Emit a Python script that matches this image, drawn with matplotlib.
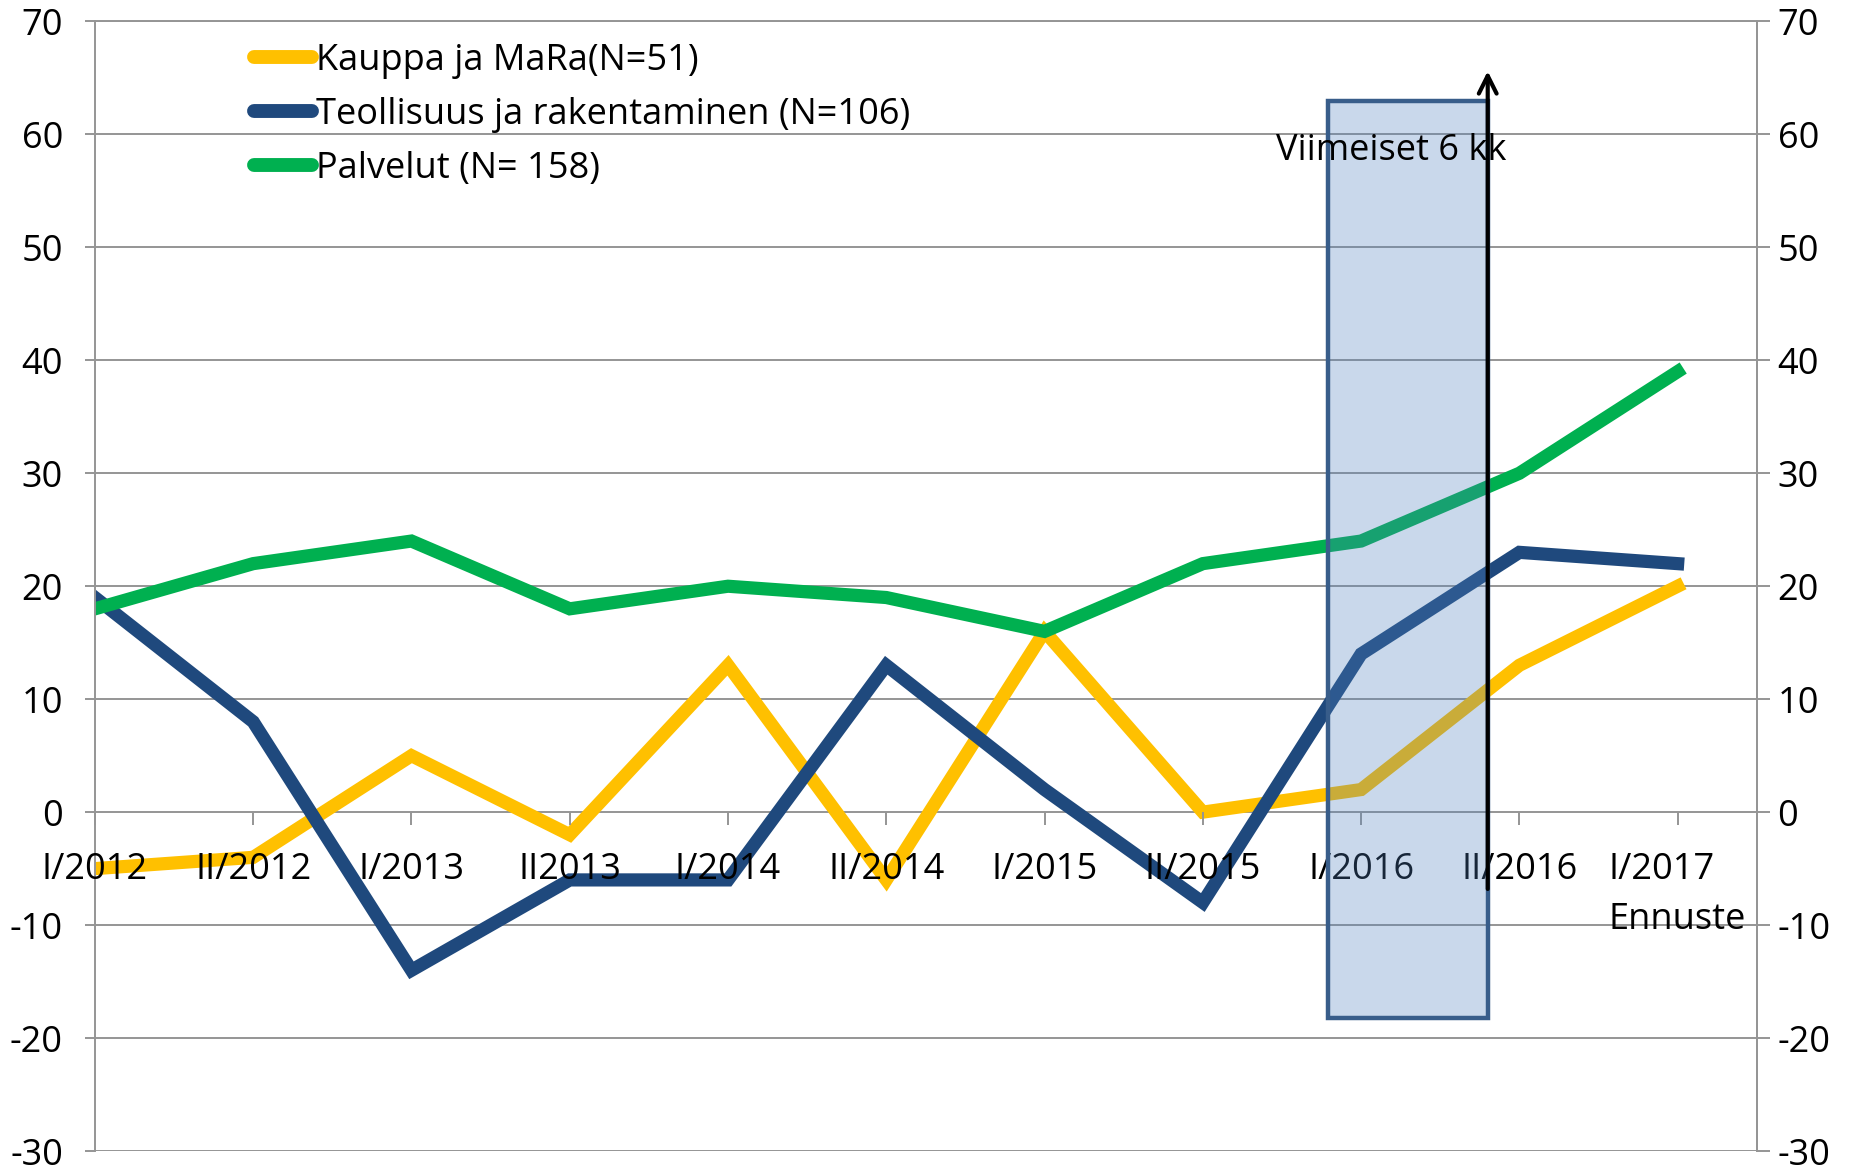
import matplotlib
matplotlib.use('Agg')
import matplotlib.pyplot as plt
from matplotlib.patches import Rectangle
from matplotlib.lines import Line2D

plt.rcParams['font.family'] = ['Open Sans', 'DejaVu Sans']
plt.rcParams['axes.unicode_minus'] = False

jaksot = ['I/2012', 'II/2012', 'I/2013', 'II2013', 'I/2014', 'II/2014',
          'I/2015', 'II/2015', 'I/2016', 'II/2016', 'I/2017\nEnnuste']
kauppa = [-5, -4, 5, -2, 13, -6, 16, 0, 2, 13, 20]
teollisuus = [19, 8, -14, -6, -6, 13, 2, -8, 14, 23, 22]
palvelut = [18, 22, 24, 18, 20, 19, 16, 22, 24, 30, 39]
nimet = ['Kauppa ja MaRa(N=51)', 'Teollisuus ja rakentaminen (N=106)', 'Palvelut (N= 158)']
varit = ['#FFC000', '#1F497D', '#00B050']
yticks = list(range(-30, 80, 10))

fs = 26
harmaa = '#959595'

fig = plt.figure(figsize=(18.61, 11.65), dpi=100)
ax = fig.add_axes([0.051, 0.012, 0.893, 0.9696])

# gridlines under the series, tick labels above them
for yt in yticks:
    ax.axhline(yt, color=harmaa, lw=1.4, zorder=1)

x = list(range(len(jaksot)))
for y, c in zip([kauppa, teollisuus, palvelut], varit):
    ax.plot(x, y, color=c, lw=9.5, solid_joinstyle='miter', zorder=2)

ax.spines['bottom'].set_position(('data', 0))
ax.spines['bottom'].set_visible(False)
for s in ['left', 'top', 'right']:
    ax.spines[s].set_color(harmaa)
    ax.spines[s].set_linewidth(1.4)

ax.set_xlim(0, 10.5)
ax.set_ylim(-30, 70)
ax.set_yticks(yticks)
ax.set_xticks(x)
ax.set_xticklabels(jaksot, linespacing=1.5)
ax.tick_params(axis='y', labelsize=fs, length=7, width=1.4, color=harmaa, pad=16)
ax.tick_params(axis='x', labelsize=fs, length=9, width=1.4, color=harmaa, pad=20)
for lab in ax.get_xticklabels():
    lab.set_multialignment('left')
ax.set_axisbelow(False)

# viimeiset 6 kk laatikko
ax.add_patch(Rectangle((7.79, -18.2), 1.01, 81.2, facecolor='#4F81BD', alpha=0.3,
                       edgecolor='none', zorder=4))
ax.add_patch(Rectangle((7.79, -18.2), 1.01, 81.2, facecolor='none',
                       edgecolor='#385D8A', lw=3.2, zorder=4.1))
ax.annotate('', xy=(8.80, 65.6), xytext=(8.80, -6.8),
            arrowprops=dict(arrowstyle='->', lw=3, color='black', mutation_scale=32,
                            shrinkA=0, shrinkB=0), zorder=5)
ax.text(8.19, 58.5, 'Viimeiset 6 kk', fontsize=fs, ha='center', va='center', zorder=6)

ax2 = ax.twinx()
ax2.set_ylim(-30, 70)
ax2.set_yticks(yticks)
ax2.tick_params(axis='y', labelsize=fs, length=9, width=1.4, color=harmaa, pad=6)
for s in ['left', 'bottom', 'top']:
    ax2.spines[s].set_visible(False)
ax2.spines['right'].set_color(harmaa)
ax2.spines['right'].set_linewidth(1.4)

kahvat = [Line2D([0], [0], color=c, lw=10, solid_capstyle='round') for c in varit]
ax2.legend(kahvat, nimet, loc='upper left', bbox_to_anchor=(0.096, 0.981),
           frameon=False, fontsize=fs, handlelength=1.6, handletextpad=0.1,
           labelspacing=0.5, borderpad=0, borderaxespad=0)

plt.savefig('out.png', dpi=100)
